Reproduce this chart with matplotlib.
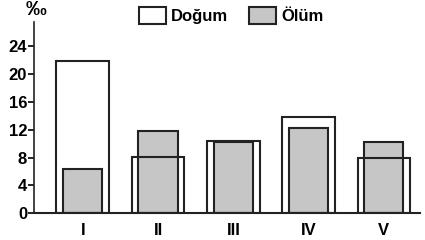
import numpy as np
import matplotlib.pyplot as plt
from matplotlib.patches import Patch

plt.rcParams['font.family'] = ['Liberation Sans', 'DejaVu Sans']
plt.rcParams['font.weight'] = 'bold'

groups = ['I', 'II', 'III', 'IV', 'V']
dogum = [21.8, 8.1, 10.4, 13.8, 8.0]
olum = [6.3, 11.8, 10.2, 12.3, 10.2]
yticks = [0, 4, 8, 12, 16, 20, 24]

edge = '#222222'
gray = '#c6c6c6'

fig = plt.figure(figsize=(4.25, 2.4), dpi=100)
ax = fig.add_axes([0.08, 0.111, 0.908, 0.799])

x = np.arange(len(groups))
ax.bar(x, dogum, width=0.7, color='white', edgecolor='none', zorder=1)
ax.bar(x, olum, width=0.52, color=gray, edgecolor=edge, linewidth=1.5, zorder=2)
ax.bar(x, dogum, width=0.7, fill=False, edgecolor=edge, linewidth=1.5, zorder=3)

ax.set_xlim(-0.648, 4.478)
ax.set_ylim(0, 27.5)
ax.set_yticks(yticks)
ax.set_xticks(x)
ax.set_xticklabels(groups)
ax.tick_params(axis='y', direction='out', length=4, width=1.2, pad=1, labelsize=12)
ax.tick_params(axis='x', length=0, pad=7, labelsize=12)
for lab in ax.get_xticklabels() + ax.get_yticklabels():
    lab.set_fontweight('bold')

ax.spines['top'].set_visible(False)
ax.spines['right'].set_visible(False)
ax.spines['left'].set_linewidth(1.2)
ax.spines['bottom'].set_linewidth(1.5)
ax.spines['left'].set_color(edge)
ax.spines['bottom'].set_color(edge)

fig.text(0.084, 0.962, '‰', ha='center', va='center', fontsize=15, fontweight='bold')

handles = [Patch(facecolor='white', edgecolor=edge, linewidth=1.5, label='Doğum'),
           Patch(facecolor=gray, edgecolor=edge, linewidth=1.5, label='Ölüm')]
fig.legend(handles=handles, loc='center', bbox_to_anchor=(0.544, 0.935), ncol=2,
           frameon=False, fontsize=12, handlelength=1.6, handleheight=1.25,
           handletextpad=0.3, columnspacing=1.3, borderpad=0, borderaxespad=0)

fig.savefig('out.png', dpi=100)
